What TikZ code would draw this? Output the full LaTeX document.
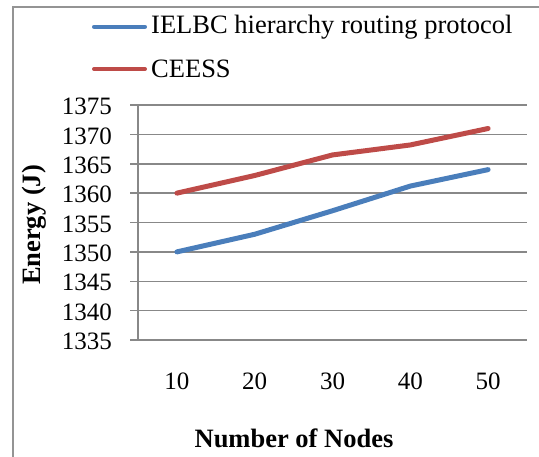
\documentclass[tikz,border=0pt]{standalone}
\usepackage{fontspec}
\setmainfont{Liberation Serif}
\usepackage{xcolor}
\usetikzlibrary{positioning}
\definecolor{seriesblue}{HTML}{4A7EBB}
\definecolor{seriesred}{HTML}{BE4B48}
\definecolor{gridgray}{HTML}{888888}
\tikzset{
  gridline/.style={gridgray, line width=1.5pt},
  series/.style={line width=5pt, line cap=round, line join=round},
  ticklabel/.style={font=\fontsize{25}{25}\selectfont, inner sep=0pt},
  legendlabel/.style={font=\fontsize{26.5}{26.5}\selectfont, inner sep=0pt},
  axistitle/.style={font=\fontsize{26.5}{26.5}\selectfont\bfseries, inner sep=0pt}
}
\begin{document}
\begin{tikzpicture}[x=1pt,y=-1pt]
  \useasboundingbox (0,0) rectangle (539,456);
  % Chart frame (left and top edges)
  \draw[gridgray!90, line width=2pt] (13,470) -- (13,6.5) -- (550,6.5);

  % Legend
  \draw[series, seriesblue, line width=4pt] (94,26.7) -- (145,26.7) coordinate (legA);
  \node[legendlabel, right=6pt of legA] (legAtext) {IELBC hierarchy routing protocol};
  \draw[series, seriesred, line width=4pt] (94,69) -- (145,69) coordinate (legB);
  \node[legendlabel, right=6pt of legB] (legBtext) {CEESS};

  % Horizontal gridlines, ticks and value labels
  \foreach \k [evaluate=\k as \v using int(1335+5*\k)] in {0,...,8} {
    \draw[gridline] (130,{340-29.375*\k}) -- (527,{340-29.375*\k});
    \node[ticklabel, anchor=east] (ylab\k) at (112,{341.5-29.375*\k}) {\v};
  }
  % Vertical axis
  \draw[gridline] (138,105.5) -- (138,340.75);

  % Category labels
  \foreach \i [evaluate=\i as \n using int(10*\i)] in {1,...,5}
    \node[ticklabel] (xlab\i) at ({138+77.8*(\i-0.5)},381) {\n};

  % Axis titles
  \node[axistitle, rotate=90] (ytitle) at (34,225) {Energy (J)};
  \node[axistitle] (xtitle) at (294,438) {Number of Nodes};

  % Data series
  \begin{scope}[shift={(138,340)}, x=77.8pt, y=5.875pt]
    \draw[series, seriesblue] (0.5,15) -- (1.5,18) -- (2.5,22) -- (3.5,26.2) -- (4.5,29);
    \draw[series, seriesred] (0.5,25) -- (1.5,28) -- (2.5,31.5) -- (3.5,33.2) -- (4.5,36);
  \end{scope}
\end{tikzpicture}
\end{document}
